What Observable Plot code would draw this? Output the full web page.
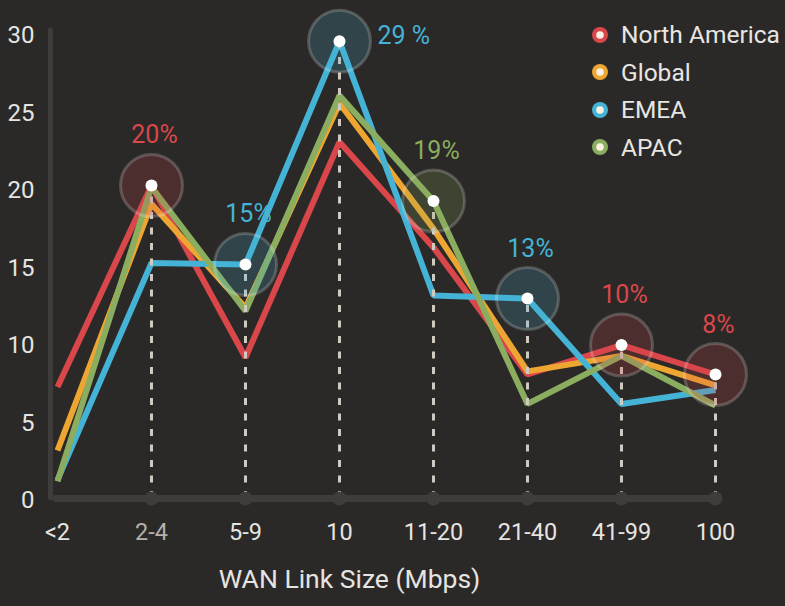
<!DOCTYPE html>
<html>
<head>
<meta charset="utf-8">
<script src="https://cdn.jsdelivr.net/npm/d3@7"></script>
<script src="https://cdn.jsdelivr.net/npm/@observablehq/plot@0.6"></script>
<style>
  html, body { margin: 0; padding: 0; background: #2b2927; }
  #wrap { position: relative; width: 785px; height: 606px; overflow: hidden; background: #2b2927; }
  #legend { position: absolute; left: 590px; top: 16px; font-family: Roboto, "Liberation Sans", sans-serif; font-weight: 400; font-size: 24.5px; color: #e8e6e3; }
  #legend .row { height: 37.5px; display: flex; align-items: center; white-space: nowrap; }
  #legend svg { margin-right: 11px; }
</style>
</head>
<body>
<div id="wrap"><div id="legend"></div></div>
<script>
const categories = ["<2", "2-4", "5-9", "10", "11-20", "21-40", "41-99", "100"];
const seriesNames = ["North America", "Global", "EMEA", "APAC"];
const seriesColors = ["#d9474b", "#eea632", "#45b3d6", "#8aad5f"];
const northAmerica = [7.2, 20.2, 9.1, 23.0, 16.2, 8.0, 9.9, 8.0];
const globalValues = [3.1, 19.0, 12.3, 25.5, 17.4, 8.2, 9.2, 7.3];
const emea = [1.2, 15.2, 15.1, 29.5, 13.1, 12.9, 6.1, 7.0];
const apac = [1.1, 20.1, 12.1, 26.0, 19.2, 6.1, 9.2, 6.0];
const yTicks = [0, 5, 10, 15, 20, 25, 30];
const highlightCats = ["2-4", "5-9", "10", "11-20", "21-40", "41-99", "100"];
const highlightSeries = ["North America", "EMEA", "EMEA", "APAC", "EMEA", "North America", "North America"];
const highlightLabels = ["20%", "15%", "29 %", "19%", "13%", "10%", "8%"];
const xTitle = "WAN Link Size (Mbps)";

const seriesValues = [northAmerica, globalValues, emea, apac];
const rows = [];
seriesNames.forEach((s, i) => categories.forEach((c, j) => rows.push({series: s, cat: c, value: seriesValues[i][j]})));
const highlights = highlightCats.map((c, k) => {
  const s = highlightSeries[k];
  return {cat: c, series: s, label: highlightLabels[k], value: seriesValues[seriesNames.indexOf(s)][categories.indexOf(c)]};
});
const topValue = d3.max(highlights, d => d.value);

const axisGray = "#3f3d3b";
const light = "#e6e4e1";
const font = 'Roboto, "Liberation Sans", sans-serif';
const firstCat = categories[0];
const lastCat = categories[categories.length - 1];

const chart = Plot.plot({
  width: 785,
  height: 606,
  marginLeft: 55,
  marginRight: 68,
  marginTop: 33,
  marginBottom: 108,
  style: {background: "transparent", fontFamily: font, fontWeight: 400, fontSize: "24px", overflow: "visible"},
  x: {type: "point", domain: categories, padding: 0, label: null},
  y: {domain: [0, 30], label: null},
  color: {domain: seriesNames, range: seriesColors},
  marks: [
    Plot.ruleX([firstCat], {x: d => d, y1: 0, y2: 30.2, dx: -7, stroke: axisGray, strokeWidth: 5, strokeLinecap: "round"}),
    Plot.line(rows, {x: "cat", y: "value", z: "series", stroke: "series", strokeWidth: 6, strokeLinejoin: "miter", strokeLinecap: "butt"}),
    Plot.ruleX(highlights, {x: "cat", y1: 0, y2: "value", stroke: "#cfc9bf", strokeWidth: 3, strokeDasharray: "7,8.5"}),
    Plot.ruleY([0], {y: d => d, x1: () => firstCat, x2: () => lastCat, dx: -1, stroke: axisGray, strokeWidth: 7, strokeLinecap: "round"}),
    Plot.dot(categories.slice(1), {x: d => d, y: () => 0, r: 7, fill: axisGray}),
    Plot.dot(highlights, {x: "cat", y: "value", r: 31, fill: "series", fillOpacity: 0.2, stroke: "white", strokeOpacity: 0.2, strokeWidth: 3}),
    Plot.dot(highlights, {x: "cat", y: "value", r: 6, fill: "white"}),
    Plot.text(highlights.filter(d => d.value !== topValue), {x: "cat", y: "value", text: "label", fill: "series", dy: -50, dx: 3, fontSize: 25}),
    Plot.text(highlights.filter(d => d.value === topValue), {x: "cat", y: "value", text: "label", fill: "series", textAnchor: "start", dx: 38, dy: -5, fontSize: 25}),
    Plot.axisY(yTicks, {tickSize: 0, tickPadding: 21, fontSize: 24, fill: light, dy: 2, label: null}),
    Plot.axisX({tickSize: 0, tickPadding: 25, fontSize: 23.5, fill: d => d === "2-4" ? "#b5b0a8" : light, label: null}),
    Plot.text([xTitle], {frameAnchor: "bottom", dx: -37, dy: 89, fontSize: 26.5, fill: light})
  ]
});
document.getElementById("wrap").prepend(chart);

const legend = d3.select("#legend");
seriesNames.forEach((s, i) => {
  const row = legend.append("div").attr("class", "row");
  const svg = row.append("svg").attr("width", 20).attr("height", 20);
  svg.append("circle").attr("cx", 10).attr("cy", 10).attr("r", 8).attr("fill", seriesColors[i]);
  svg.append("circle").attr("cx", 10).attr("cy", 10).attr("r", 3.8).attr("fill", "#fbf0e2");
  row.append("span").text(s);
});
</script>
</body>
</html>
